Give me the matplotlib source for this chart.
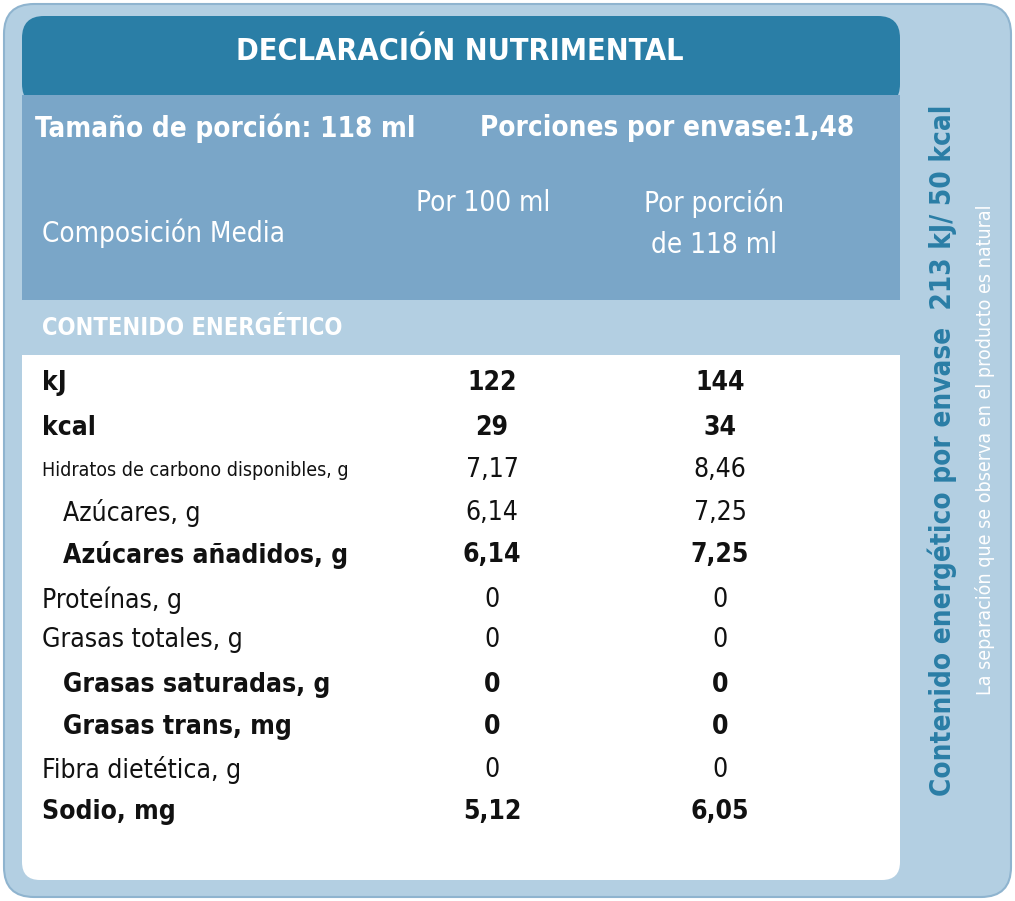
import matplotlib
matplotlib.use("Agg")
import matplotlib.pyplot as plt
from matplotlib.patches import FancyBboxPatch, Rectangle

title = "DECLARACIÓN NUTRIMENTAL"
labels = ["kJ", "kcal", "Hidratos de carbono disponibles, g", "Azúcares, g",
          "Azúcares añadidos, g", "Proteínas, g", "Grasas totales, g",
          "Grasas saturadas, g", "Grasas trans, mg", "Fibra dietética, g", "Sodio, mg"]
per100 = ["122", "29", "7,17", "6,14", "6,14", "0", "0", "0", "0", "0", "5,12"]
perportion = ["144", "34", "8,46", "7,25", "7,25", "0", "0", "0", "0", "0", "6,05"]
bold = [True, True, False, False, True, False, False, True, True, False, True]
indent = [False, False, False, True, True, False, False, True, True, False, False]

plt.rcParams["font.family"] = ["DejaVu Sans"]
plt.rcParams["font.stretch"] = "condensed"
fig = plt.figure(figsize=(10.15, 9.01), dpi=100)
ax = fig.add_axes([0, 0, 1, 1])
ax.set_xlim(0, 1015); ax.set_ylim(901, 0); ax.axis("off")

ax.add_patch(FancyBboxPatch((4, 4), 1007, 893, boxstyle="round,pad=0,rounding_size=30",
                            fc="#b3cfe2", ec="#8fb4cf", lw=1.5))
ax.add_patch(FancyBboxPatch((22, 16), 878, 90, boxstyle="round,pad=0,rounding_size=22",
                            fc="#2a7ea6", ec="none"))
ax.add_patch(Rectangle((22, 95), 878, 205, fc="#7aa6c8", ec="none"))
ax.add_patch(Rectangle((22, 300), 878, 55, fc="#b3cfe2", ec="none"))
ax.add_patch(FancyBboxPatch((22, 355), 878, 525, boxstyle="round,pad=0,rounding_size=18",
                            fc="white", ec="none"))
ax.add_patch(Rectangle((22, 355), 878, 30, fc="white", ec="none"))

W = "white"
ax.text(460, 52, title, ha="center", va="center", color=W, fontsize=22, fontweight="bold")
ax.text(35, 128, "Tamaño de porción: 118 ml", ha="left", va="center", color=W, fontsize=20, fontweight="bold")
ax.text(480, 128, "Porciones por envase:1,48", ha="left", va="center", color=W, fontsize=20, fontweight="bold")
ax.text(42, 233, "Composición Media", ha="left", va="center", color=W, fontsize=20)
ax.text(483, 203, "Por 100 ml", ha="center", va="center", color=W, fontsize=20)
ax.text(714, 224, "Por porción\nde 118 ml", ha="center", va="center", color=W, fontsize=20, linespacing=1.6)
ax.text(42, 328, "CONTENIDO ENERGÉTICO", ha="left", va="center", color=W, fontsize=17, fontweight="bold")

ys = [383, 428, 470, 513, 555, 600, 640, 685, 727, 770, 812]
for y, lab, a, b, bo, ind in zip(ys, labels, per100, perportion, bold, indent):
    fw = "bold" if bo else "normal"
    fs = 14 if lab.startswith("Hidratos") else 19
    ax.text(63 if ind else 42, y, lab, ha="left", va="center", color="#111111", fontsize=fs, fontweight=fw)
    ax.text(492, y, a, ha="center", va="center", color="#111111", fontsize=19, fontweight=fw)
    ax.text(720, y, b, ha="center", va="center", color="#111111", fontsize=19, fontweight=fw)

ax.text(942, 450, "Contenido energético por envase  213 kJ/ 50 kcal", rotation=90,
        ha="center", va="center", color="#2a7ea6", fontsize=20, fontweight="bold")
ax.text(985, 450, "La separación que se observa en el producto es natural", rotation=90,
        ha="center", va="center", color="white", fontsize=14)

fig.savefig("out.png", dpi=100)
